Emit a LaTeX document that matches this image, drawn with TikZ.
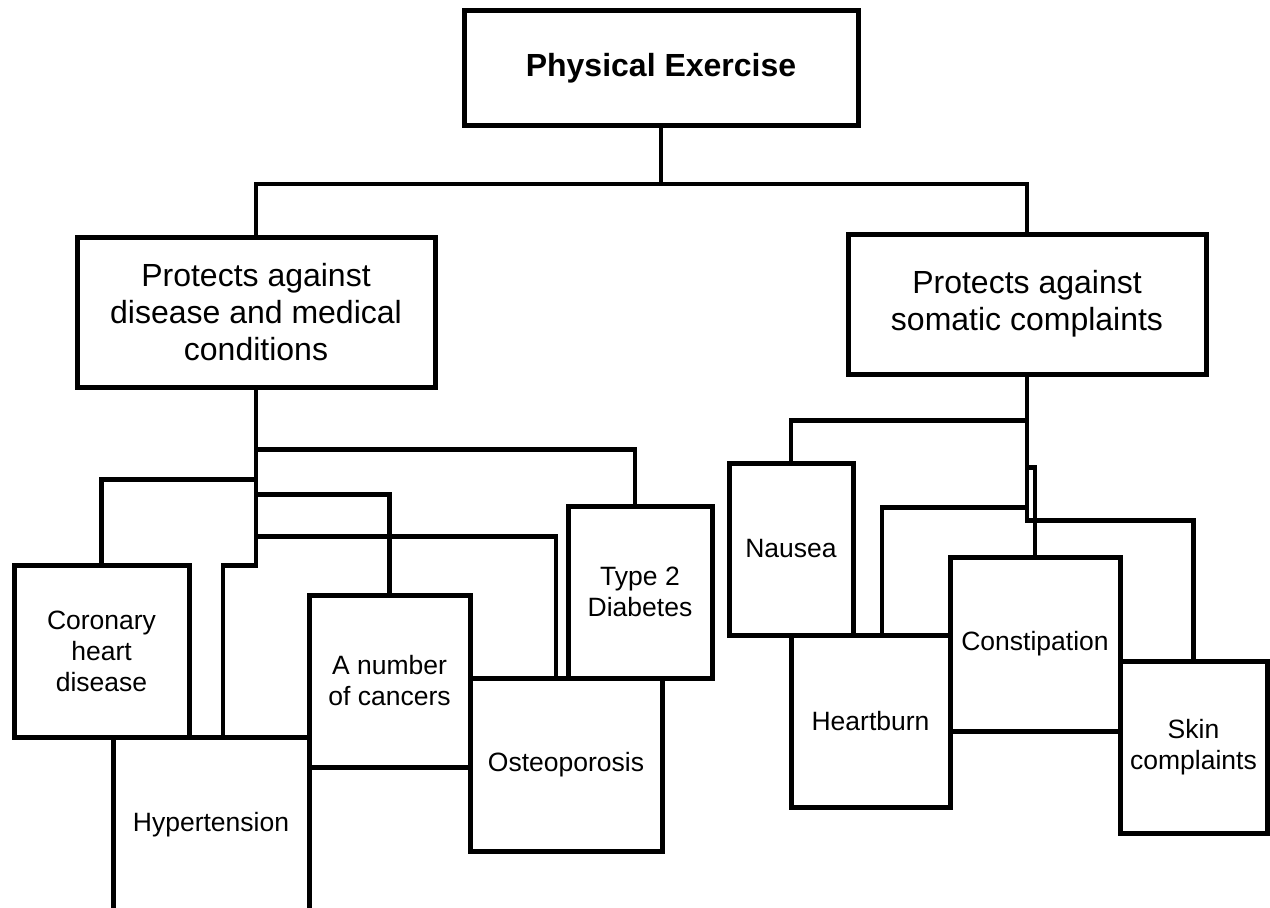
\documentclass[tikz,border=0pt]{standalone}
\usepackage{fontspec}
\setmainfont{Liberation Sans}
\begin{document}
\begin{tikzpicture}[x=1pt,y=-1pt,
  box/.style={draw=black, fill=white, line width=5pt, inner sep=0pt,
    align=center, font=\fontsize{26.5}{31}\selectfont},
  bigbox/.style={box, font=\fontsize{32}{36.8}\selectfont},
  link/.style={draw=black, line width=4.2pt}]
\useasboundingbox (0,0) rectangle (1270,908);
\fill[white] (0,0) rectangle (1270,908);
\clip (0,0) rectangle (1270,908);

% root and the two main branches
\node[bigbox, minimum width=394pt, minimum height=115pt] (root) at (661,68)
  {\bfseries Physical Exercise};
\node[bigbox, minimum width=358pt, minimum height=150pt] (disease) at (256,312)
  {Protects against\\disease and medical\\conditions};
\node[bigbox, minimum width=358pt, minimum height=140pt] (somatic) at (1027,304)
  {Protects against\\somatic complaints};

% diseases and medical conditions
\node[box, minimum width=175pt, minimum height=172pt] (chd) at (101.5,651)
  {Coronary\\heart\\disease};
\node[box, minimum width=196pt, minimum height=176pt] (hyper) at (211,825)
  {Hypertension};
\node[box, minimum width=161pt, minimum height=172pt] (cancer) at (389.5,681)
  {A number\\of cancers};
\node[box, minimum width=192pt, minimum height=173pt] (osteo) at (566,764.5)
  {Osteoporosis};
\node[box, minimum width=144pt, minimum height=172pt] (diab) at (640,592)
  {Type 2\\Diabetes};

% somatic complaints
\node[box, minimum width=124pt, minimum height=172pt] (nausea) at (791,549)
  {Nausea};
\node[box, minimum width=159pt, minimum height=172pt] (heart) at (870.5,721)
  {Heartburn};
\node[box, minimum width=170pt, minimum height=174pt] (const) at (1035,644)
  {Constipation};
\node[box, minimum width=147pt, minimum height=172pt] (skin) at (1193.5,747)
  {Skin\\complaints};

% root to main branches
\draw[link] (root.south) -- ++(0,56) -| (disease.north);
\draw[link] (root.south) -- ++(0,56) -| (somatic.north);

% tree under "disease and medical conditions"
\draw[link] (disease.south) -- ++(0,60) -| ([xshift=-5pt]diab.north);
\draw[link] (disease.south) -- ++(0,90) -| (chd.north);
\draw[link] (disease.south) -- ++(0,105) -| (cancer.north);
\draw[link] (disease.south) -- ++(0,147) -| ([xshift=-10pt]osteo.north);
\draw[link] (disease.south) -- ++(0,176) -| ([xshift=12pt]hyper.north);

% tree under "somatic complaints"
\draw[link] (somatic.south) -- ++(0,44) -| (nausea.north);
\draw[link] (somatic.south) -- ++(0,131) -| ([xshift=11.5pt]heart.north);
\draw[link] (somatic.south) -- ++(0,144) -| (skin.north);
\draw[link] ([yshift=-91pt]somatic.south) -| (const.north);
\end{tikzpicture}
\end{document}
